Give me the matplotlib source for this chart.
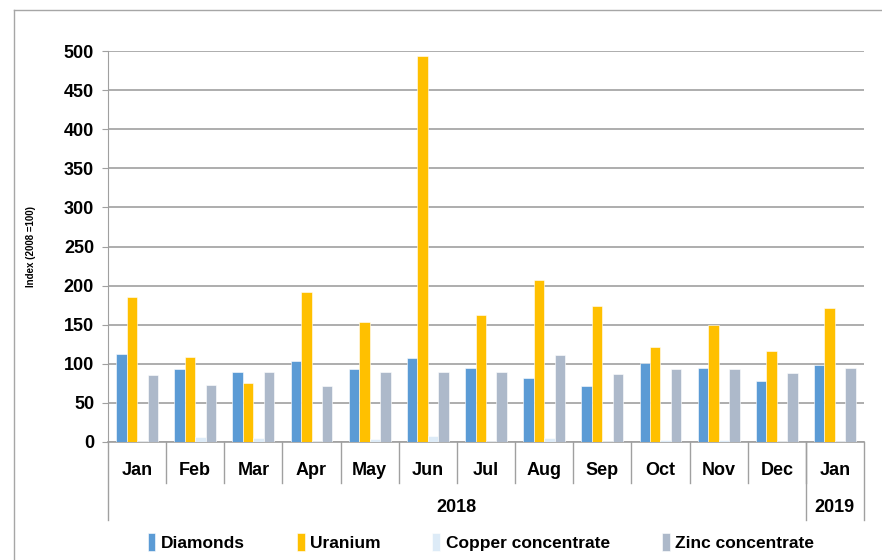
import matplotlib.pyplot as plt
from matplotlib.lines import Line2D
import numpy as np

months = ['Jan', 'Feb', 'Mar', 'Apr', 'May', 'Jun', 'Jul', 'Aug', 'Sep', 'Oct', 'Nov', 'Dec', 'Jan']
years = ['2018', '2019']
year_span = [12, 1]  # number of months under each year label

diamonds = [113, 93, 90, 104, 93, 108, 94, 82, 71, 101, 95, 78, 98]
uranium = [186, 109, 76, 192, 154, 493, 163, 207, 174, 122, 150, 116, 171]
copper = [1, 7, 5.5, 1, 4, 7.5, 1, 5, 1, 2.5, 3, 1, 1]
zinc = [86, 73, 90, 71, 90, 90, 90, 111, 87, 93, 93, 88, 95]

series = [('Diamonds', diamonds, '#5B9BD5'),
          ('Uranium', uranium, '#FFC000'),
          ('Copper concentrate', copper, '#DDEBF7'),
          ('Zinc concentrate', zinc, '#ADB9CA')]

plt.rcParams['font.family'] = ['Liberation Sans Narrow', 'Liberation Sans', 'DejaVu Sans']
plt.rcParams['font.weight'] = 'bold'

fig = plt.figure(figsize=(8.82, 5.6), dpi=100)
ax = fig.add_axes([108 / 882, 1 - 442 / 560, 756 / 882, 391 / 560])

# outer chart border
fig.add_artist(Line2D([14 / 882, 14 / 882], [0, 1 - 10 / 560], color='#A6A6A6', lw=1))
fig.add_artist(Line2D([14 / 882, 1], [1 - 10 / 560, 1 - 10 / 560], color='#A6A6A6', lw=1))

x = np.arange(len(months))
w = 0.18
for i, (name, vals, col) in enumerate(series):
    ax.bar(x + (i - 1.5) * w, vals, w, color=col, label=name,
           edgecolor='white', linewidth=0.4, zorder=3)

ax.set_ylim(0, 500)
ax.set_xlim(-0.5, len(months) - 0.5)
ax.set_yticks(range(0, 501, 50))
ax.yaxis.grid(True, color='#A0A0A0', linewidth=1.2, zorder=0)
ax.tick_params(axis='y', labelsize=13, length=4, color='#A0A0A0', pad=6)
ax.set_xticks([])
for s in ['top', 'right', 'bottom']:
    ax.spines[s].set_visible(False)
ax.spines['left'].set_color('#A0A0A0')
ax.set_ylabel('Index (2008 =100)', fontsize=7, fontweight='bold', labelpad=20)

# multi-level category axis
tr = ax.get_xaxis_transform()
gc = '#A0A0A0'
ax.plot([-0.5, len(months) - 0.5], [0, 0], color=gc, lw=1.2, transform=tr, clip_on=False)
for k, m in enumerate(months):
    ax.text(k, -0.072, m, ha='center', va='center', fontsize=13, transform=tr)
for k in range(1, len(months)):
    ax.plot([k - 0.5, k - 0.5], [0, -0.105], color=gc, lw=1, transform=tr, clip_on=False)
start = 0
bounds = [-0.5]
for yl, n in zip(years, year_span):
    ax.text(start + (n - 1) / 2, -0.168, yl, ha='center', va='center', fontsize=13, transform=tr)
    start += n
    bounds.append(start - 0.5)
for b in bounds:
    ax.plot([b, b], [0, -0.1995], color=gc, lw=1, transform=tr, clip_on=False)

fig.legend(loc='center', bbox_to_anchor=(0.545, 1 - 542 / 560), ncol=4, frameon=False,
           fontsize=12.5, handlelength=0.45, handleheight=1.2, handletextpad=0.3,
           columnspacing=3.0)

fig.savefig('out.png', dpi=100)
